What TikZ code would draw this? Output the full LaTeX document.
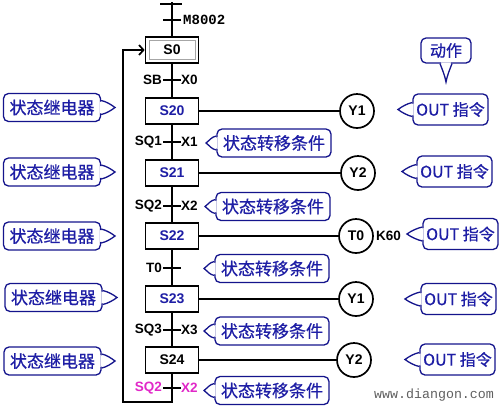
\documentclass[tikz,border=0pt]{standalone}
\usepackage{fontspec}
\setmainfont{Liberation Sans}
\newfontfamily\cjk[FakeBold=0.7]{Noto Sans CJK SC}
\newfontfamily\monof{Liberation Mono}
\usetikzlibrary{calc,arrows.meta}
\definecolor{bubblue}{RGB}{20,20,140}
\definecolor{txtblue}{RGB}{30,30,165}
\definecolor{mag}{RGB}{225,40,200}
\newcommand\ptrR[2]{%
  \fill[white] ($(#1.east)+(-1.2,-6)$) -- (#2) -- ($(#1.east)+(-1.2,6)$) -- cycle;
  \draw[bline] ($(#1.east)+(0,-7)$) .. controls +(5,1) and +(-4,-3) .. (#2) .. controls +(-4,3) and +(5,-1) .. ($(#1.east)+(0,7)$);}
\newcommand\ptrL[2]{%
  \fill[white] ($(#1.west)+(1.2,-6)$) -- (#2) -- ($(#1.west)+(1.2,6)$) -- cycle;
  \draw[bline] ($(#1.west)+(0,-7)$) .. controls +(-5,1) and +(4,-3) .. (#2) .. controls +(4,3) and +(-5,-1) .. ($(#1.west)+(0,7)$);}
\newcommand\ptrD[2]{%
  \fill[white] ($(#1.south)+(-5,-1.2)$) -- (#2) -- ($(#1.south)+(5,-1.2)$) -- cycle;
  \draw[bline] ($(#1.south)+(-6,0)$) .. controls +(2,5) and +(-1,-6) .. (#2) .. controls +(1,-6) and +(-2,5) .. ($(#1.south)+(6,0)$);}
\begin{document}
\begin{tikzpicture}[x=1pt,y=-1pt,
  wire/.style={line width=1.7pt},
  stepbox/.style={draw,line width=1.7pt,minimum width=53pt,minimum height=26pt,inner sep=0pt,
    font=\bfseries\fontsize{14}{14}\selectfont,text=txtblue},
  coil/.style={draw,circle,line width=1.7pt,minimum size=34pt,inner sep=0pt,
    font=\bfseries\fontsize{14}{14}\selectfont},
  lbl/.style={inner sep=0pt,font=\bfseries\fontsize{13.5}{13.5}\selectfont},
  bubble/.style={draw=bubblue,line width=1.3pt,rounded corners=5pt,fill=white,inner sep=0pt,
    text=txtblue,font=\cjk\fontsize{17}{17}\selectfont},
  lbub/.style={bubble,minimum width=97pt,minimum height=28pt},
  mbub/.style={bubble,minimum width=114pt,minimum height=28pt},
  rbub/.style={bubble,minimum width=75pt,minimum height=31pt,font=\cjk\fontsize{16}{16}\selectfont},
  bline/.style={draw=bubblue,line width=1.3pt},
]
\useasboundingbox[fill=white] (0,0) rectangle (500,408);

% ---- step boxes
\node[stepbox,text=black] (S0) at (172,50) {S0};
\node[draw=gray!70,line width=0.8pt,minimum width=46pt,minimum height=19pt,inner sep=0pt] (S0in) at (S0) {};
\node[stepbox] (S20) at (172,111) {S20};
\node[stepbox] (S21) at (172,173) {S21};
\node[stepbox] (S22) at (172,236) {S22};
\node[stepbox] (S23) at (172,299) {S23};
\node[stepbox,text=black] (S24) at (172,360) {S24};

% ---- coils
\node[coil] (Y1) at (357,111) {Y1};
\node[coil] (Y2) at (358,173) {Y2};
\node[coil] (T0) at (356,236) {T0};
\node[coil] (Y1b) at (356,299) {Y1};
\node[coil] (Y2b) at (354,360) {Y2};
\node[lbl,anchor=west] (K60) at (376,236) {K60};

% ---- coordinates
\coordinate (top) at (172,2);
\coordinate (bot) at (172,402);
\coordinate (lb) at (123,402);
\coordinate (lt) at (123,50);
\coordinate (c0) at (172,4);
\coordinate (cm) at (172,20);
\coordinate (c1) at (172,80);
\coordinate (c2) at (172,142);
\coordinate (c3) at (172,206);
\coordinate (c4) at (172,268);
\coordinate (c5) at (172,330);
\coordinate (c6) at (172,388);

% ---- main wires
\draw[wire] (top) -- (S0.north);
\draw[wire] (S0) -- (S20);
\draw[wire] (S20) -- (S21);
\draw[wire] (S21) -- (S22);
\draw[wire] (S22) -- (S23);
\draw[wire] (S23) -- (S24);
\draw[wire,-{Straight Barb[length=4.5pt,width=10pt]}] (S24.south) -- (bot) -- (lb) -- (lt) -- (S0.west);
\draw[wire] (S20) -- (Y1);
\draw[wire] (S21) -- (Y2);
\draw[wire] (S22) -- (T0);
\draw[wire] (S23) -- (Y1b);
\draw[wire] (S24) -- (Y2b);

% ---- crossbars
\draw[wire] ($(c0)+(-12,0)$) -- ($(c0)+(10,0)$);
\foreach \c in {cm,c1,c2,c3,c4,c5,c6}{\draw[wire] ($(\c)+(-9,0)$) -- ($(\c)+(9,0)$);}

% ---- transition labels
\node[anchor=west,inner sep=0pt,font=\monof\bfseries\fontsize{14}{14}\selectfont] (m8002) at ($(cm)+(11,0)$) {M8002};
\node[lbl,anchor=east] (sb) at ($(c1)+(-10,0)$) {SB};
\node[lbl,anchor=west] (x0) at ($(c1)+(9,0)$) {X0};
\node[lbl,anchor=east] (sq1) at ($(c2)+(-10,0)$) {SQ1};
\node[lbl,anchor=west] (x1) at ($(c2)+(9,0)$) {X1};
\node[lbl,anchor=east] (sq2) at ($(c3)+(-10,0)$) {SQ2};
\node[lbl,anchor=west] (x2) at ($(c3)+(9,0)$) {X2};
\node[lbl,anchor=east] (t0l) at ($(c4)+(-10,0)$) {T0};
\node[lbl,anchor=east] (sq3) at ($(c5)+(-10,0)$) {SQ3};
\node[lbl,anchor=west] (x3) at ($(c5)+(9,0)$) {X3};
\node[lbl,anchor=east,text=mag] (sq2b) at ($(c6)+(-10,0)$) {SQ2};
\node[lbl,anchor=west,text=mag] (x2b) at ($(c6)+(9,0)$) {X2};

% ---- left callouts
\node[lbub] (L1) at (52,107.5) {状态继电器};
\node[lbub] (L2) at (52,172) {状态继电器};
\node[lbub] (L3) at (52,236) {状态继电器};
\node[lbub] (L4) at (53.5,297.5) {状态继电器};
\node[lbub] (L5) at (52.5,361) {状态继电器};
\coordinate (L1t) at (115,107.5);
\coordinate (L2t) at (115,172);
\coordinate (L3t) at (115,236);
\coordinate (L4t) at (117,297.5);
\coordinate (L5t) at (115,361);
\ptrR{L1}{L1t}\ptrR{L2}{L2t}\ptrR{L3}{L3t}\ptrR{L4}{L4t}\ptrR{L5}{L5t}

% ---- middle callouts
\node[mbub] (M1) at (274,143) {状态转移条件};
\node[mbub] (M2) at (273,206.5) {状态转移条件};
\node[mbub] (M3) at (272,268.5) {状态转移条件};
\node[mbub] (M4) at (272,331) {状态转移条件};
\node[mbub] (M5) at (272,390.5) {状态转移条件};
\coordinate (M1t) at (206,143);
\coordinate (M2t) at (205,206.5);
\coordinate (M3t) at (204,268.5);
\coordinate (M4t) at (204,331);
\coordinate (M5t) at (204,390.5);
\ptrL{M1}{M1t}\ptrL{M2}{M2t}\ptrL{M3}{M3t}\ptrL{M4}{M4t}\ptrL{M5}{M5t}

% ---- right callouts
\node[rbub] (R1) at (450.5,109.5) {OUT 指令};
\node[rbub] (R2) at (454.5,171.5) {OUT 指令};
\node[rbub] (R3) at (460.5,234) {OUT 指令};
\node[rbub] (R4) at (458.5,299) {OUT 指令};
\node[rbub] (R5) at (457.5,359.5) {OUT 指令};
\coordinate (R1t) at (398,109.5);
\coordinate (R2t) at (402,171.5);
\coordinate (R3t) at (407,234);
\coordinate (R4t) at (405,299);
\coordinate (R5t) at (405,359.5);
\ptrL{R1}{R1t}\ptrL{R2}{R2t}\ptrL{R3}{R3t}\ptrL{R4}{R4t}\ptrL{R5}{R5t}

\node[bubble,minimum width=50pt,minimum height=25pt,font=\cjk\fontsize{16}{16}\selectfont] (A) at (446,50.5) {动作};
\coordinate (At) at (446,82);
\ptrD{A}{At}

% ---- watermark
\node[anchor=west,inner sep=0pt,text=gray!75!black,font=\monof\fontsize{13.3}{13.3}\selectfont] (wm) at (374,395) {www.diangon.com};
\end{tikzpicture}
\end{document}
